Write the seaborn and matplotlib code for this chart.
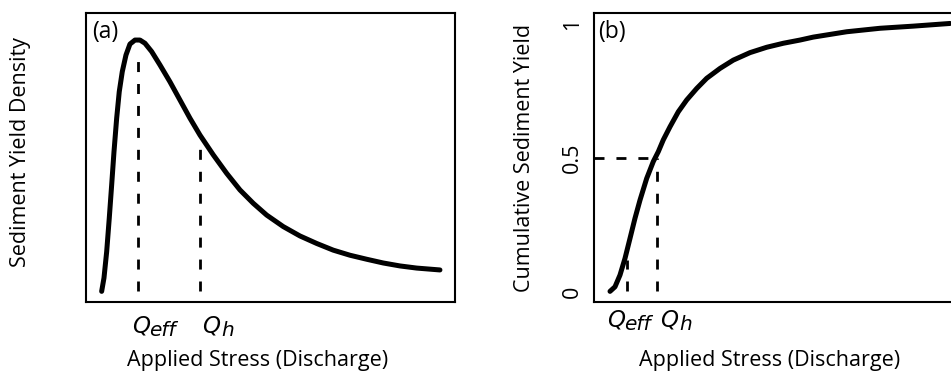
import matplotlib
matplotlib.use("Agg")
import matplotlib.pyplot as plt
import matplotlib.transforms as mtransforms
import seaborn as sns

# panel (a): sediment yield density vs applied stress (arbitrary units 0-100)
dens_x = [4.25, 4.88, 5.61, 6.31, 6.96, 7.59, 8.32, 9.02, 9.84, 10.84, 11.92,
          13.28, 14.63, 15.99, 17.80, 20.05, 22.76, 25.47, 28.18, 30.89, 34.50,
          38.13, 41.73, 45.34, 48.97, 53.47, 57.99, 62.52, 67.01, 71.54, 76.07,
          80.57, 85.09, 89.62, 95.93]
dens_y = [0.0, 0.050, 0.148, 0.273, 0.397, 0.521, 0.647, 0.746, 0.821, 0.883,
          0.924, 0.939, 0.939, 0.927, 0.896, 0.846, 0.783, 0.715, 0.647, 0.584,
          0.510, 0.441, 0.379, 0.329, 0.285, 0.242, 0.207, 0.179, 0.154, 0.135,
          0.120, 0.106, 0.095, 0.087, 0.080]
q_eff_a, q_h_a = 14.0, 30.9
q_eff_a_top, q_h_a_top = 0.883, 0.547

# panel (b): cumulative sediment yield
cum_x = [4.34, 5.69, 7.05, 8.40, 9.76, 11.11, 12.47, 14.28, 16.07, 17.43, 18.78,
         20.60, 22.85, 25.12, 27.83, 30.54, 34.15, 37.75, 42.28, 46.80, 51.30,
         55.83, 59.43, 68.48, 77.51, 86.54, 96.48]
cum_y = [0.0, 0.017, 0.061, 0.123, 0.198, 0.273, 0.341, 0.422, 0.485, 0.522,
         0.566, 0.615, 0.671, 0.715, 0.758, 0.796, 0.833, 0.864, 0.892, 0.912,
         0.927, 0.939, 0.950, 0.970, 0.983, 0.991, 1.001]
q_eff_b, q_h_b = 8.85, 17.2
q_eff_b_top = 0.117
half_level = 0.5
yticks_b = [0, 0.5, 1]
ytick_labels_b = ["0", "0.5", "1"]

sns.set_style("white")
plt.rcParams["font.family"] = ["Open Sans", "DejaVu Sans"]
plt.rcParams["text.color"] = "black"
plt.rcParams["ytick.color"] = "black"

fig = plt.figure(figsize=(9.51, 3.72), dpi=100)
ax_a = fig.add_axes([0.0904, 0.188, 0.388, 0.777])
ax_b = fig.add_axes([0.6246, 0.188, 0.388, 0.777])

dash_kw = dict(color="black", lw=2, dashes=(3.6, 4.3), dash_capstyle="butt")
curve_kw = dict(color="black", lw=3.6, sort=False, solid_joinstyle="round",
                solid_capstyle="round")

sns.lineplot(x=dens_x, y=dens_y, ax=ax_a, **curve_kw)
ax_a.plot([q_eff_a, q_eff_a], [0, q_eff_a_top], **dash_kw)
ax_a.plot([q_h_a, q_h_a], [0, q_h_a_top], **dash_kw)

sns.lineplot(x=cum_x, y=cum_y, ax=ax_b, **curve_kw)
ax_b.plot([q_eff_b, q_eff_b], [0, q_eff_b_top], **dash_kw)
ax_b.plot([q_h_b, q_h_b], [0, half_level], **dash_kw)
ax_b.plot([0, q_h_b], [half_level, half_level], **dash_kw)

for ax in (ax_a, ax_b):
    ax.set_xlim(0, 100)
    ax.set_ylim(-0.04, 1.04)
    ax.set_xticks([])
    for sp in ax.spines.values():
        sp.set_visible(True)
        sp.set_color("black")
        sp.set_linewidth(1.5)

ax_a.set_yticks([])
ax_b.set_yticks(yticks_b)
ax_b.set_yticklabels(ytick_labels_b, rotation=90, va="center", fontsize=15.5)
ax_b.tick_params(axis="y", length=0, pad=8)

ax_a.text(0.018, 0.975, "(a)", transform=ax_a.transAxes, fontsize=16.5, va="top", ha="left")
ax_b.text(0.012, 0.975, "(b)", transform=ax_b.transAxes, fontsize=16.5, va="top", ha="left")


def q_label(ax, x, y, sub, sub_dx):
    tr = mtransforms.blended_transform_factory(ax.transData, ax.transAxes)
    ax.annotate("Q", (x, y), xycoords=tr, fontsize=16.5, style="italic",
                family="DejaVu Sans", ha="left", va="baseline", annotation_clip=False)
    ax.annotate(sub, (x, y), xycoords=tr, xytext=(sub_dx, -2.5),
                textcoords="offset points", fontsize=14.5, style="italic",
                family="DejaVu Sans", ha="left", va="baseline", annotation_clip=False)


q_label(ax_a, q_eff_a - 1.5, -0.107, "eff", 12.5)
q_label(ax_a, q_h_a + 0.6, -0.107, "h", 13.5)
q_label(ax_b, q_eff_b - 5.3, -0.083, "eff", 12.5)
q_label(ax_b, q_h_b + 0.8, -0.083, "h", 13.5)

fig.text(0.2713, 0.032, "Applied Stress (Discharge)", fontsize=15.5, ha="center", va="center")
fig.text(0.8097, 0.032, "Applied Stress (Discharge)", fontsize=15.5, ha="center", va="center")
fig.text(0.022, 0.591, "Sediment Yield Density", fontsize=15.5, rotation=90, ha="center", va="center")
fig.text(0.551, 0.575, "Cumulative Sediment Yield", fontsize=15.5, rotation=90, ha="center", va="center")

fig.savefig("out.png", dpi=100)
plt.close(fig)
